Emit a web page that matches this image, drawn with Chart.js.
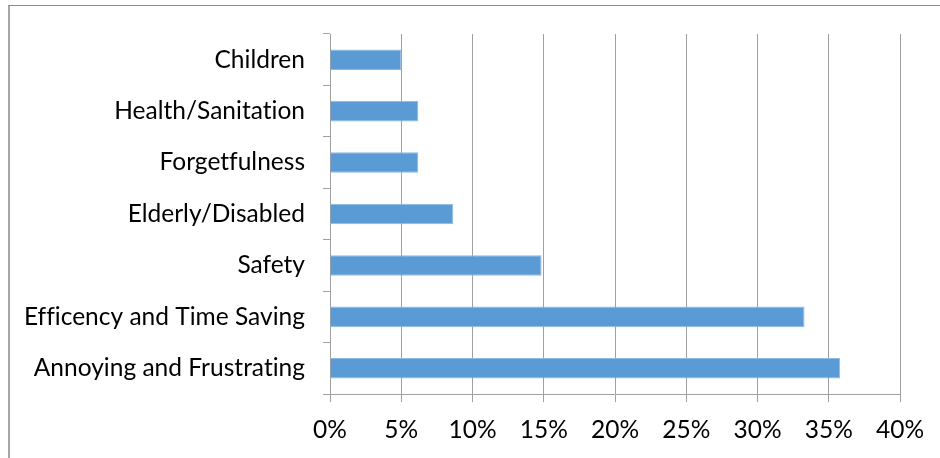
<!DOCTYPE html>
<html>
<head>
<meta charset="utf-8">
<script src="https://cdn.jsdelivr.net/npm/chart.js@4/dist/chart.umd.min.js"></script>
<style>
  html, body { margin: 0; padding: 0; background: #fff; }
  #wrap { position: relative; width: 940px; height: 458px; overflow: hidden; }
  #frame { position: absolute; left: 8px; top: 5px; width: 1000px; height: 600px;
           border-left: 2px solid #a6a6a6; border-top: 1px solid #8c8c8c; box-sizing: border-box; }
  canvas { position: absolute; left: 0; top: 0; }
</style>
</head>
<body>
<div id="wrap">
  <div id="frame"></div>
  <canvas id="c" width="940" height="458"></canvas>
</div>
<script>
const categories = ["Children", "Health/Sanitation", "Forgetfulness", "Elderly/Disabled", "Safety", "Efficency and Time Saving", "Annoying and Frustrating"];
const shares = [5.0, 6.2, 6.2, 8.65, 14.85, 33.3, 35.8];
const xTicks = [0, 5, 10, 15, 20, 25, 30, 35, 40];

const FONT = "Lato, Carlito, Calibri, 'Open Sans', sans-serif";

const noLigatures = {
  id: 'noLigatures',
  beforeLayout(chart) { try { chart.ctx.letterSpacing = '0.01px'; } catch (e) {} },
  beforeDraw(chart) { try { chart.ctx.letterSpacing = '0.01px'; } catch (e) {} }
};

new Chart(document.getElementById('c'), {
  type: 'bar',
  data: {
    labels: categories,
    datasets: [{
      data: shares,
      backgroundColor: '#5B9BD5',
      borderColor: '#8DB9E4',
      borderWidth: 1,
      barPercentage: 0.4,
      categoryPercentage: 1.0
    }]
  },
  plugins: [noLigatures],
  options: {
    indexAxis: 'y',
    responsive: false,
    animation: false,
    layout: { padding: { top: 34, right: 40, left: 0, bottom: 0 } },
    plugins: { legend: { display: false }, tooltip: { enabled: false } },
    scales: {
      x: {
        min: 0, max: 40,
        afterBuildTicks: (axis) => { axis.ticks = xTicks.map(v => ({ value: v })); },
        afterFit: (axis) => { axis.height = 64; },
        grid: { color: '#a0a0a0', lineWidth: 1, tickLength: 8, drawTicks: true },
        border: { display: true, color: '#a0a0a0', width: 1 },
        ticks: {
          padding: 13,
          color: '#000',
          font: { family: FONT, size: 24.5 },
          callback: (v) => v + '%',
          maxRotation: 0
        }
      },
      y: {
        afterFit: (axis) => { axis.width = 330; },
        grid: { offset: true, drawOnChartArea: false, drawTicks: true, tickLength: 7, color: '#a0a0a0' },
        border: { display: true, color: '#a0a0a0', width: 1 },
        ticks: {
          padding: 18,
          color: '#000',
          font: { family: FONT, size: 24.5 }
        }
      }
    }
  }
});
</script>
</body>
</html>
